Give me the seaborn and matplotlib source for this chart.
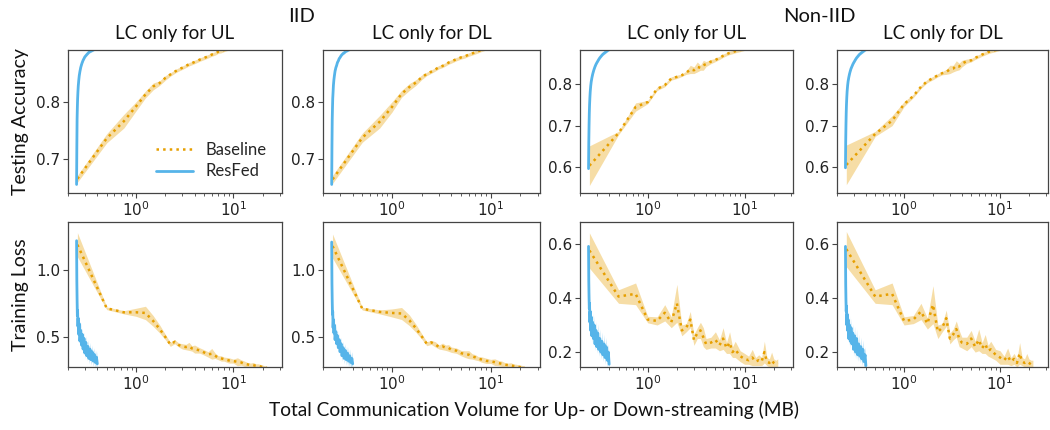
import matplotlib
matplotlib.use("Agg")
import matplotlib.pyplot as plt
import seaborn as sns
from matplotlib.ticker import FixedLocator, LogLocator, NullFormatter
from matplotlib.lines import Line2D

# ---------------- data ----------------
base_x = [0.25, 0.5, 0.75, 1.0, 1.25, 1.5, 1.75, 2.0, 2.25, 2.5, 2.75, 3.0, 3.25, 3.5, 3.75,
          4.0, 4.5, 5.0, 5.5, 6.0, 6.5, 7.0, 7.5, 8.0, 9.0, 10.0, 11.0, 12.0, 13.0, 14.0,
          15.0, 16.0, 17.0, 18.0, 19.0, 20.0, 21.0, 22.0]
resfed_x = [0.245, 0.2465, 0.248, 0.2495, 0.251, 0.253, 0.255, 0.258, 0.261, 0.265, 0.27,
            0.275, 0.28, 0.286, 0.292, 0.298, 0.305, 0.312, 0.32, 0.328, 0.336, 0.345,
            0.354, 0.363, 0.372, 0.382, 0.392, 0.40]

# IID, testing accuracy
base_acc_iid_ul = [0.665, 0.736, 0.766, 0.792, 0.813, 0.827, 0.833, 0.842, 0.848, 0.853, 0.857,
                   0.860, 0.863, 0.866, 0.868, 0.870, 0.874, 0.877, 0.880, 0.883, 0.885, 0.888,
                   0.889, 0.891, 0.894, 0.896, 0.898, 0.900, 0.901, 0.902, 0.903, 0.904, 0.905,
                   0.906, 0.907, 0.908, 0.908, 0.909]
base_acc_iid_ul_sd = [0.006, 0.008, 0.012, 0.008, 0.006, 0.006, 0.004, 0.004, 0.003, 0.003, 0.003,
                      0.003, 0.003, 0.003, 0.003, 0.003, 0.003, 0.003, 0.003, 0.003, 0.003, 0.003,
                      0.003, 0.003, 0.003, 0.003, 0.003, 0.003, 0.003, 0.003, 0.003, 0.003, 0.003,
                      0.003, 0.003, 0.003, 0.003, 0.003]
base_acc_iid_dl = [0.664, 0.737, 0.765, 0.791, 0.814, 0.826, 0.834, 0.843, 0.849, 0.853, 0.857,
                   0.861, 0.863, 0.866, 0.869, 0.871, 0.875, 0.878, 0.880, 0.883, 0.885, 0.887,
                   0.889, 0.891, 0.894, 0.896, 0.898, 0.899, 0.901, 0.902, 0.903, 0.904, 0.905,
                   0.906, 0.907, 0.907, 0.908, 0.909]
base_acc_iid_dl_sd = [0.007, 0.008, 0.011, 0.009, 0.006, 0.006, 0.005, 0.004, 0.003, 0.003, 0.003,
                      0.003, 0.003, 0.003, 0.003, 0.003, 0.003, 0.003, 0.003, 0.003, 0.003, 0.003,
                      0.003, 0.003, 0.003, 0.003, 0.003, 0.003, 0.003, 0.003, 0.003, 0.003, 0.003,
                      0.003, 0.003, 0.003, 0.003, 0.003]
res_acc_iid_ul = [0.655, 0.720, 0.770, 0.790, 0.805, 0.818, 0.828, 0.838, 0.846, 0.853, 0.860,
                  0.865, 0.869, 0.873, 0.876, 0.879, 0.881, 0.883, 0.885, 0.887, 0.888, 0.889,
                  0.890, 0.891, 0.892, 0.893, 0.894, 0.895]
res_acc_iid_dl = [0.655, 0.722, 0.768, 0.789, 0.806, 0.817, 0.829, 0.839, 0.846, 0.854, 0.860,
                  0.864, 0.869, 0.872, 0.876, 0.878, 0.881, 0.883, 0.885, 0.886, 0.888, 0.889,
                  0.890, 0.891, 0.892, 0.893, 0.894, 0.895]
res_acc_iid_sd = [0.015, 0.010, 0.006, 0.004, 0.003, 0.003, 0.003, 0.003, 0.002, 0.002, 0.002,
                  0.002, 0.002, 0.002, 0.002, 0.002, 0.002, 0.002, 0.002, 0.002, 0.002, 0.002,
                  0.002, 0.002, 0.002, 0.002, 0.002, 0.002]

# Non-IID, testing accuracy
base_acc_non_ul = [0.603, 0.682, 0.745, 0.757, 0.789, 0.798, 0.814, 0.818, 0.822, 0.828, 0.836,
                   0.834, 0.842, 0.840, 0.846, 0.849, 0.855, 0.859, 0.864, 0.869, 0.873, 0.876,
                   0.878, 0.880, 0.883, 0.886, 0.888, 0.890, 0.891, 0.892, 0.893, 0.894, 0.895,
                   0.896, 0.897, 0.898, 0.899, 0.900]
base_acc_non_ul_sd = [0.048, 0.004, 0.010, 0.004, 0.004, 0.004, 0.004, 0.004, 0.003, 0.004, 0.010,
                      0.008, 0.012, 0.006, 0.012, 0.006, 0.005, 0.004, 0.004, 0.004, 0.004, 0.004,
                      0.004, 0.004, 0.004, 0.004, 0.004, 0.004, 0.004, 0.004, 0.004, 0.004, 0.004,
                      0.004, 0.004, 0.004, 0.004, 0.004]
base_acc_non_dl = [0.605, 0.680, 0.712, 0.752, 0.772, 0.794, 0.808, 0.815, 0.822, 0.827, 0.830,
                   0.836, 0.838, 0.845, 0.843, 0.850, 0.856, 0.858, 0.864, 0.868, 0.872, 0.875,
                   0.878, 0.880, 0.883, 0.886, 0.888, 0.890, 0.891, 0.892, 0.893, 0.894, 0.895,
                   0.896, 0.897, 0.898, 0.899, 0.900]
base_acc_non_dl_sd = [0.048, 0.006, 0.012, 0.006, 0.004, 0.004, 0.004, 0.004, 0.004, 0.004, 0.006,
                      0.010, 0.008, 0.012, 0.008, 0.008, 0.005, 0.004, 0.004, 0.004, 0.004, 0.004,
                      0.004, 0.004, 0.004, 0.004, 0.004, 0.004, 0.004, 0.004, 0.004, 0.004, 0.004,
                      0.004, 0.004, 0.004, 0.004, 0.004]
res_acc_non_ul = [0.596, 0.660, 0.700, 0.730, 0.750, 0.768, 0.782, 0.796, 0.806, 0.815, 0.824,
                  0.831, 0.837, 0.843, 0.848, 0.852, 0.856, 0.860, 0.864, 0.867, 0.870, 0.873,
                  0.875, 0.877, 0.879, 0.881, 0.883, 0.884]
res_acc_non_dl = [0.598, 0.662, 0.702, 0.731, 0.751, 0.769, 0.783, 0.797, 0.807, 0.816, 0.825,
                  0.832, 0.838, 0.843, 0.848, 0.852, 0.856, 0.860, 0.864, 0.867, 0.870, 0.873,
                  0.875, 0.877, 0.879, 0.881, 0.883, 0.884]
res_acc_non_sd = [0.012, 0.008, 0.006, 0.005, 0.004, 0.004, 0.003, 0.003, 0.003, 0.003, 0.003,
                  0.003, 0.003, 0.003, 0.003, 0.003, 0.003, 0.003, 0.003, 0.003, 0.003, 0.003,
                  0.003, 0.003, 0.003, 0.003, 0.003, 0.003]

# IID, training loss
base_loss_iid_ul = [1.19, 0.715, 0.685, 0.685, 0.680, 0.620, 0.560, 0.500, 0.445, 0.465, 0.440,
                    0.430, 0.425, 0.430, 0.415, 0.410, 0.400, 0.385, 0.370, 0.375, 0.360, 0.345,
                    0.340, 0.335, 0.325, 0.320, 0.315, 0.310, 0.300, 0.295, 0.290, 0.290, 0.285,
                    0.285, 0.280, 0.275, 0.270, 0.270]
base_loss_iid_ul_sd = [0.09, 0.010, 0.012, 0.030, 0.050, 0.040, 0.030, 0.020, 0.015, 0.015, 0.015,
                       0.020, 0.020, 0.030, 0.020, 0.030, 0.020, 0.020, 0.020, 0.040, 0.020, 0.015,
                       0.020, 0.015, 0.020, 0.015, 0.030, 0.020, 0.020, 0.015, 0.015, 0.020, 0.015,
                       0.015, 0.015, 0.015, 0.015, 0.015]
base_loss_iid_dl = [1.18, 0.712, 0.688, 0.680, 0.676, 0.625, 0.565, 0.505, 0.450, 0.460, 0.445,
                    0.425, 0.430, 0.420, 0.418, 0.405, 0.398, 0.380, 0.372, 0.368, 0.355, 0.348,
                    0.338, 0.333, 0.322, 0.318, 0.312, 0.305, 0.300, 0.293, 0.290, 0.288, 0.284,
                    0.282, 0.278, 0.275, 0.272, 0.270]
base_loss_iid_dl_sd = [0.09, 0.010, 0.015, 0.030, 0.045, 0.040, 0.030, 0.020, 0.015, 0.015, 0.020,
                       0.015, 0.025, 0.020, 0.025, 0.020, 0.020, 0.020, 0.025, 0.030, 0.020, 0.020,
                       0.015, 0.020, 0.020, 0.015, 0.025, 0.020, 0.020, 0.015, 0.015, 0.020, 0.015,
                       0.015, 0.015, 0.015, 0.015, 0.015]
res_loss_iid_ul = [1.22, 0.92, 0.78, 0.66, 0.70, 0.58, 0.64, 0.52, 0.60, 0.47, 0.55, 0.44, 0.52,
                   0.41, 0.49, 0.38, 0.46, 0.36, 0.43, 0.34, 0.41, 0.33, 0.39, 0.32, 0.37, 0.31,
                   0.35, 0.30]
res_loss_iid_dl = [1.21, 0.90, 0.77, 0.67, 0.69, 0.57, 0.63, 0.53, 0.59, 0.48, 0.54, 0.45, 0.51,
                   0.42, 0.48, 0.39, 0.45, 0.36, 0.42, 0.34, 0.40, 0.33, 0.38, 0.32, 0.36, 0.31,
                   0.34, 0.30]
res_loss_iid_sd = [0.07, 0.06, 0.05, 0.05, 0.06, 0.04, 0.06, 0.04, 0.06, 0.04, 0.06, 0.04, 0.05,
                   0.04, 0.05, 0.04, 0.05, 0.04, 0.05, 0.04, 0.05, 0.04, 0.05, 0.04, 0.05, 0.04,
                   0.05, 0.04]

# Non-IID, training loss
base_loss_non_ul = [0.575, 0.405, 0.415, 0.320, 0.315, 0.345, 0.310, 0.380, 0.280, 0.290, 0.320,
                    0.245, 0.270, 0.280, 0.255, 0.230, 0.235, 0.245, 0.225, 0.250, 0.215, 0.235,
                    0.200, 0.210, 0.185, 0.175, 0.170, 0.180, 0.165, 0.170, 0.165, 0.200, 0.165,
                    0.160, 0.170, 0.160, 0.155, 0.160]
base_loss_non_ul_sd = [0.065, 0.025, 0.040, 0.012, 0.015, 0.030, 0.020, 0.070, 0.020, 0.015, 0.030,
                       0.020, 0.020, 0.030, 0.035, 0.020, 0.020, 0.030, 0.020, 0.040, 0.020, 0.040,
                       0.020, 0.030, 0.020, 0.020, 0.015, 0.030, 0.015, 0.020, 0.015, 0.040, 0.015,
                       0.015, 0.030, 0.015, 0.015, 0.015]
base_loss_non_dl = [0.580, 0.405, 0.415, 0.315, 0.320, 0.350, 0.305, 0.375, 0.275, 0.290, 0.325,
                    0.250, 0.265, 0.285, 0.250, 0.235, 0.230, 0.250, 0.220, 0.245, 0.215, 0.230,
                    0.205, 0.210, 0.190, 0.180, 0.170, 0.185, 0.165, 0.175, 0.160, 0.195, 0.165,
                    0.160, 0.165, 0.160, 0.155, 0.155]
base_loss_non_dl_sd = [0.065, 0.025, 0.040, 0.015, 0.015, 0.030, 0.020, 0.070, 0.025, 0.015, 0.030,
                       0.020, 0.020, 0.030, 0.030, 0.020, 0.025, 0.030, 0.020, 0.040, 0.020, 0.035,
                       0.020, 0.030, 0.020, 0.025, 0.015, 0.030, 0.015, 0.020, 0.015, 0.040, 0.015,
                       0.015, 0.030, 0.015, 0.015, 0.015]
res_loss_non_ul = [0.59, 0.46, 0.40, 0.36, 0.38, 0.31, 0.35, 0.28, 0.33, 0.26, 0.31, 0.25, 0.30,
                   0.23, 0.28, 0.22, 0.27, 0.21, 0.25, 0.20, 0.24, 0.19, 0.23, 0.18, 0.22, 0.17,
                   0.20, 0.155]
res_loss_non_dl = [0.59, 0.45, 0.39, 0.35, 0.37, 0.30, 0.34, 0.28, 0.32, 0.25, 0.30, 0.24, 0.29,
                   0.23, 0.27, 0.21, 0.26, 0.20, 0.25, 0.19, 0.23, 0.185, 0.22, 0.175, 0.21, 0.165,
                   0.19, 0.15]
res_loss_non_sd = [0.03, 0.035, 0.03, 0.025, 0.035, 0.025, 0.035, 0.025, 0.035, 0.025, 0.035,
                   0.025, 0.035, 0.025, 0.035, 0.025, 0.035, 0.025, 0.035, 0.025, 0.035, 0.025,
                   0.035, 0.025, 0.035, 0.025, 0.03, 0.02]

col_titles = ["LC only for UL", "LC only for DL", "LC only for UL", "LC only for DL"]
group_titles = ["IID", "Non-IID"]
row_labels = ["Testing Accuracy", "Training Loss"]
series_names = ["Baseline", "ResFed"]
x_label = "Total Communication Volume for Up- or Down-streaming (MB)"

panels = [
    [(base_acc_iid_ul, base_acc_iid_ul_sd, res_acc_iid_ul, res_acc_iid_sd),
     (base_acc_iid_dl, base_acc_iid_dl_sd, res_acc_iid_dl, res_acc_iid_sd),
     (base_acc_non_ul, base_acc_non_ul_sd, res_acc_non_ul, res_acc_non_sd),
     (base_acc_non_dl, base_acc_non_dl_sd, res_acc_non_dl, res_acc_non_sd)],
    [(base_loss_iid_ul, base_loss_iid_ul_sd, res_loss_iid_ul, res_loss_iid_sd),
     (base_loss_iid_dl, base_loss_iid_dl_sd, res_loss_iid_dl, res_loss_iid_sd),
     (base_loss_non_ul, base_loss_non_ul_sd, res_loss_non_ul, res_loss_non_sd),
     (base_loss_non_dl, base_loss_non_dl_sd, res_loss_non_dl, res_loss_non_sd)],
]
ylims = [[(0.64, 0.891), (0.64, 0.891), (0.537, 0.883), (0.537, 0.883)],
         [(0.276, 1.36), (0.276, 1.36), (0.145, 0.68), (0.145, 0.68)]]
yticks = [[[0.7, 0.8], [0.7, 0.8], [0.6, 0.7, 0.8], [0.6, 0.7, 0.8]],
          [[0.5, 1.0], [0.5, 1.0], [0.2, 0.4, 0.6], [0.2, 0.4, 0.6]]]

# ---------------- style ----------------
sns.set_theme(style="ticks")
plt.rcParams["font.family"] = ["DejaVu Sans"]
TEXT_FONT = ["Lato", "DejaVu Sans"]
C_BASE = "#E69F00"
C_RES = "#56B4E9"
SPINE = "#444444"

W, H = 1050, 430
fig = plt.figure(figsize=(W / 100, H / 100), dpi=100)

col_left = [68, 323, 580, 837]
col_w = [214, 217, 213, 211]
row_top = [50, 222]
row_h = [143, 145]

axes = [[None] * 4 for _ in range(2)]
for r in range(2):
    for c in range(4):
        ax = fig.add_axes([col_left[c] / W, 1 - (row_top[r] + row_h[r]) / H,
                           col_w[c] / W, row_h[r] / H])
        axes[r][c] = ax
        bm, bsd, rm, rsd = panels[r][c]
        ax.set_xscale("log")
        ax.fill_between(base_x, [m - s for m, s in zip(bm, bsd)],
                        [m + s for m, s in zip(bm, bsd)], color=C_BASE, alpha=0.35, lw=0)
        ax.fill_between(resfed_x, [m - s for m, s in zip(rm, rsd)],
                        [m + s for m, s in zip(rm, rsd)], color=C_RES, alpha=0.35, lw=0)
        sns.lineplot(x=base_x, y=bm, ax=ax, color=C_BASE, linestyle=":", lw=1.8,
                     estimator=None, sort=False)
        sns.lineplot(x=resfed_x, y=rm, ax=ax, color=C_RES, lw=2.0,
                     estimator=None, sort=False)
        ax.set_xlim(0.2, 31.6)
        ax.set_ylim(*ylims[r][c])
        ax.yaxis.set_major_locator(FixedLocator(yticks[r][c]))
        ax.set_yticklabels([f"{t:.1f}" for t in yticks[r][c]])
        ax.xaxis.set_major_locator(LogLocator(base=10, numticks=10))
        ax.xaxis.set_minor_locator(LogLocator(base=10, subs=[2, 3, 4, 5, 6, 7, 8, 9], numticks=20))
        ax.xaxis.set_minor_formatter(NullFormatter())
        ax.tick_params(axis="both", which="major", labelsize=11, length=3.5, width=0.8,
                       color=SPINE, labelcolor="#222222", pad=2)
        ax.tick_params(axis="x", which="minor", length=2, width=0.6, color=SPINE)
        for lab in ax.get_xticklabels() + ax.get_yticklabels():
            lab.set_family("DejaVu Sans")
        for sp in ax.spines.values():
            sp.set_visible(True)
            sp.set_color(SPINE)
            sp.set_linewidth(0.9)
        ax.set_xlabel("")
        ax.set_ylabel("")
        if r == 0:
            ax.set_title(col_titles[c], family=TEXT_FONT, fontsize=13.5, pad=8, color="#111111")
        if c == 0:
            ax.set_ylabel(row_labels[r], family=TEXT_FONT, fontsize=14, labelpad=5,
                          color="#111111")

handles = [Line2D([], [], color=C_BASE, linestyle=":", lw=1.8),
           Line2D([], [], color=C_RES, lw=2.0)]
axes[0][0].legend(handles, series_names, loc="lower right", bbox_to_anchor=(1.0, -0.01),
                  frameon=False, prop={"family": TEXT_FONT, "size": 12},
                  handlelength=2.2, handletextpad=0.8, labelspacing=0.35)

fig.text(302 / W, 1 - 16 / H, group_titles[0], ha="center", va="center",
         family=TEXT_FONT, fontsize=14.5, color="#111111")
fig.text(819 / W, 1 - 16 / H, group_titles[1], ha="center", va="center",
         family=TEXT_FONT, fontsize=14.5, color="#111111")
fig.text(534 / W, 1 - 410 / H, x_label, ha="center", va="center",
         family=TEXT_FONT, fontsize=13.8, color="#111111")

fig.savefig("out.png", dpi=100)
